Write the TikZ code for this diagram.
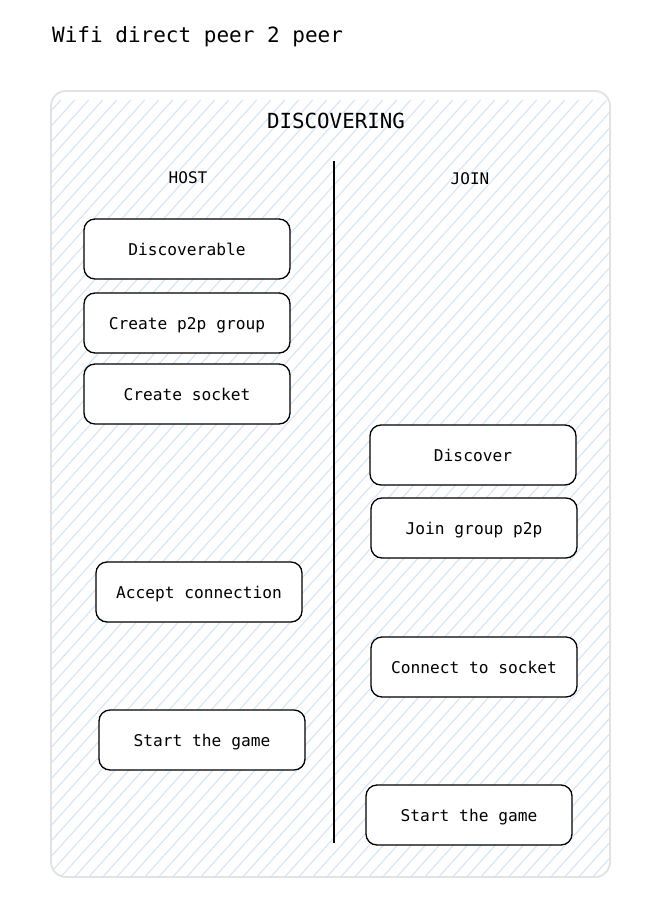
\documentclass[tikz,border=0pt]{standalone}
\usepackage{fontspec}
\setmonofont{DejaVu Sans Mono}
\begin{document}
\begin{tikzpicture}[x=1pt,y=-1pt,
  hatch/.style={draw=hatchblue, line width=1.2pt},
  stepbox/.style={draw=black, fill=white, line width=1.3pt, rounded corners=11pt},
  boxtext/.style={font=\ttfamily\fontsize{16.2}{19}\selectfont, anchor=base},
  coltitle/.style={font=\ttfamily\fontsize{16}{19}\selectfont, anchor=base},
]
\definecolor{hatchblue}{HTML}{D6E6F8}
\definecolor{framegray}{HTML}{E2E2E2}
\useasboundingbox (0,0) rectangle (647,912);

% page title
\node[anchor=base west, inner sep=0pt, font=\ttfamily\fontsize{21}{25}\selectfont] (title) at (52,42.5) {Wifi direct peer 2 peer};

% hatched frame
\begin{scope}
  \clip[rounded corners=15pt] (51,91) rectangle (610,877);
  \foreach \k in {0,...,100}{
    \draw[hatch] ({-800+14*\k},900) -- ({-800+14*\k+800/1.11},100);
  }
\end{scope}
\draw[framegray, line width=1.8pt, rounded corners=15pt] (51,91) rectangle (610,877);

\node[font=\ttfamily\fontsize{20.8}{24}\selectfont, anchor=base] (phase) at (336,129) {DISCOVERING};

% divider between the two roles
\coordinate (divtop) at (334,161);
\coordinate (divbot) at (334,843);
\draw[line width=2.6pt, black] (divtop) -- (divbot);

\node[coltitle] (host) at (188,184) {HOST};
\node[coltitle] (join) at (470,185) {JOIN};

% host steps
\draw[stepbox] (84,219) rectangle (290,279);
\node[boxtext] (discoverable) at (187,255) {Discoverable};
\draw[stepbox] (84,293) rectangle (290,353);
\node[boxtext] (creategroup) at (187,329) {Create p2p group};
\draw[stepbox] (84,364) rectangle (290,424);
\node[boxtext] (createsocket) at (187,400) {Create socket};
\draw[stepbox] (96,562) rectangle (302,622);
\node[boxtext] (accept) at (199,598) {Accept connection};
\draw[stepbox] (99,710) rectangle (305,770);
\node[boxtext] (starthost) at (202,746) {Start the game};

% join steps
\draw[stepbox] (370,425) rectangle (576,485);
\node[boxtext] (discover) at (473,461) {Discover};
\draw[stepbox] (371,498) rectangle (577,558);
\node[boxtext] (joingroup) at (474,534) {Join group p2p};
\draw[stepbox] (371,637) rectangle (577,697);
\node[boxtext] (connect) at (474,673) {Connect to socket};
\draw[stepbox] (366,785) rectangle (572,845);
\node[boxtext] (startjoin) at (469,821) {Start the game};
\end{tikzpicture}
\end{document}
